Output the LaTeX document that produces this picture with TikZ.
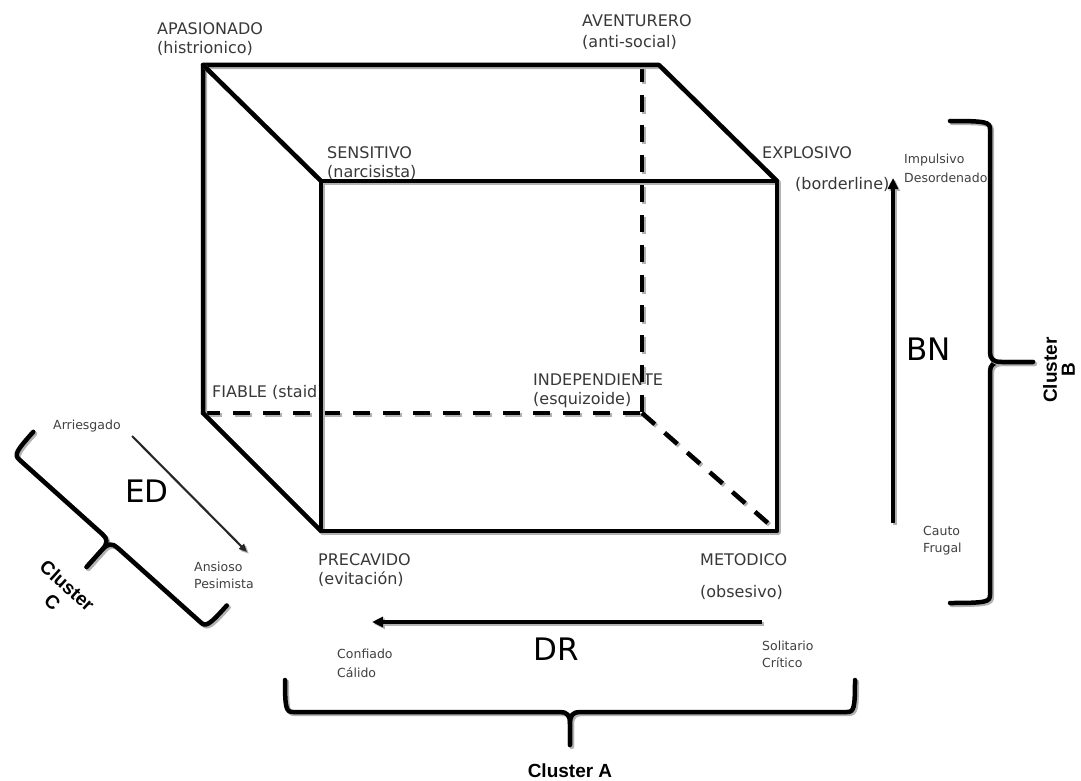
\documentclass[tikz,border=0pt]{standalone}
\usepackage{fontspec}
\setmainfont{DejaVu Sans}
\newfontfamily\clusterfont{Liberation Sans}
\usetikzlibrary{arrows.meta}
\tikzset{
  shadowcol/.style={draw=black!30, transform canvas={shift={(1.8pt,-1.8pt)}}},
  edge/.style={line width=4.5pt, line cap=round, line join=round,
    preaction={shadowcol, line width=4.5pt, line cap=round, line join=round}},
  hidden/.style={line width=4.5pt, dash pattern=on 17pt off 13pt,
    preaction={shadowcol, line width=4.5pt, dash pattern=on 17pt off 13pt}},
  brc/.style={line width=4.5pt, line cap=round, line join=round,
    preaction={shadowcol, line width=4.5pt, line cap=round, line join=round}},
  lab/.style={anchor=base west, inner sep=0pt, text=black!78, font=\fontsize{16}{19}\selectfont},
  small/.style={anchor=base west, inner sep=0pt, text=black!75, font=\fontsize{12.5}{15}\selectfont},
  big/.style={anchor=base west, inner sep=0pt, text=black, font=\fontsize{31}{36}\selectfont},
  clus/.style={inner sep=0pt, align=center, text=black, font=\clusterfont\bfseries\fontsize{19}{22}\selectfont},
  axis/.style={line width=3.5pt, -{Triangle[length=11pt,width=10pt]},
    preaction={shadowcol, line width=3.5pt, -{Triangle[length=11pt,width=10pt]}}},
  thinaxis/.style={line width=2pt, draw=black!85, -{Triangle[length=8pt,width=7pt]},
    preaction={shadowcol, line width=2pt, -{Triangle[length=8pt,width=7pt]}}},
  pics/curlybrace/.style n args={3}{code={
    \draw[brc] (-#1,-#2) .. controls (-#1,-4) and (-#1+1,0) .. (-#1+8,0) -- (-10,0)
       .. controls (-3,0) and (0,3) .. (0,12) -- (0,#3);
    \draw[brc] (#1,-#2) .. controls (#1,-4) and (#1-1,0) .. (#1-8,0) -- (10,0)
       .. controls (3,0) and (0,3) .. (0,12) -- (0,#3);
  }}
}
\begin{document}
\begin{tikzpicture}[x=1pt,y=-1pt]
\useasboundingbox[fill=white] (0,0) rectangle (1081,781);

% labels
\node[lab] (apa) at (157,35) {APASIONADO};
\node[lab] (apa2) at (157,54) {(histrionico)};
\node[lab] (ave) at (582,27) {AVENTURERO};
\node[lab] (ave2) at (582,48) {(anti-social)};
\node[lab] (sen) at (327,158) {SENSITIVO};
\node[lab] (sen2) at (327,177) {(narcisista)};
\node[lab] (exp) at (762,158) {EXPLOSIVO};
\node[lab] (exp2) at (795,189) {(borderline)};
\node[lab] (fia) at (212,397) {FIABLE (staid)};
\node[lab] (ind) at (533,385) {INDEPENDIENTE};
\node[lab] (ind2) at (533,404) {(esquizoide)};
\node[lab] (pre) at (318,565) {PRECAVIDO};
\node[lab] (pre2) at (318,584) {(evitación)};
\node[lab] (met) at (700,565) {METODICO};
\node[lab] (met2) at (700,597) {(obsesivo)};

\node[small] (arr) at (53,429) {Arriesgado};
\node[small] (ans) at (194,571) {Ansioso};
\node[small] (pes) at (194,588) {Pesimista};
\node[small] (imp) at (904,164) {Impulsivo};
\node[small] (des) at (904,182) {Desordenado};
\node[small] (cau) at (923,535) {Cauto};
\node[small] (fru) at (923,552) {Frugal};
\node[small] (con) at (337,658) {Confiado};
\node[small] (cal) at (337,677) {Cálido};
\node[small] (sol) at (762,650) {Solitario};
\node[small] (cri) at (762,667) {Crítico};

\node[big] (ed) at (125,502) {ED};
\node[big] (bn) at (906,360) {BN};
\node[big] (dr) at (533,660) {DR};

% cube corners
\coordinate (A) at (203,65);
\coordinate (B) at (659,65);
\coordinate (Bd) at (642,65);
\coordinate (C) at (203,413);
\coordinate (D) at (642,413);
\coordinate (E) at (321,181);
\coordinate (F) at (777,181);
\coordinate (G) at (321,531);
\coordinate (H) at (777,531);

% hidden edges
\draw[hidden] (C) -- (D);
\draw[hidden] (Bd) -- (D);
\draw[hidden] (D) -- (H);

% visible edges
\draw[edge] (C) -- (A) -- (B) -- (F);
\draw[edge] (A) -- (E);
\draw[edge] (C) -- (G);
\draw[edge] (E) -- (F) -- (H) -- (G) -- cycle;

% axes
\coordinate (bn0) at (893,523);
\coordinate (bn1) at (893,178);
\coordinate (dr0) at (762,622);
\coordinate (dr1) at (372,622);
\coordinate (ed0) at (132,436);
\coordinate (ed1) at (247,552);
\draw[axis] (bn0) -- (bn1);
\draw[axis] (dr0) -- (dr1);
\draw[thinaxis] (ed0) -- (ed1);

% braces
\pic at (570,712) {curlybrace={285}{32}{33}};
\pic[rotate=90] at (990,362) {curlybrace={241}{40}{43}};
\pic[rotate=-41.9] at (110,541) {curlybrace={130}{30}{35}};

\node[clus] (ca) at (570,771) {Cluster A};
\node[clus, rotate=90, font=\clusterfont\bfseries\fontsize{19}{18}\selectfont] (cb) at (1059,370) {Cluster\\B};
\node[clus, rotate=-42] (cc) at (60,594) {Cluster\\C};
\end{tikzpicture}
\end{document}
